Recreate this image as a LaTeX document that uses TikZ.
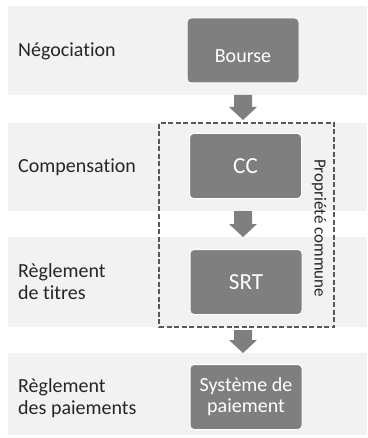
\documentclass[tikz,border=0pt]{standalone}
\usepackage{fontspec}
\setmainfont{Carlito}[Ligatures={NoCommon}]
\usetikzlibrary{calc}
\definecolor{bandc}{HTML}{F2F2F2}
\definecolor{boxg}{HTML}{7F7F7F}
\definecolor{dashc}{HTML}{595959}
\definecolor{txt}{HTML}{262626}
\newcommand\myblockarrow[2]{\fill[boxg] ($(#1)+(-9,0)$) -- ($(#1)+(9,0)$) -- ($(#2)+(9,-13)$) -- ($(#2)+(14,-13)$) -- (#2) -- ($(#2)+(-14,-13)$) -- ($(#2)+(-9,-13)$) -- cycle;}
\begin{document}
\begin{tikzpicture}[x=1pt,y=-1pt,
  bandbox/.style={fill=bandc, draw=none, minimum width=359pt, anchor=north west, inner sep=0pt, outer sep=0pt},
  stepbox/.style={fill=boxg, draw=white, line width=1pt, rounded corners=4pt, minimum width=112pt, minimum height=65pt, text=white, align=center, inner sep=0pt, font=\fontsize{20}{21}\selectfont},
  bigbox/.style={stepbox, font=\fontsize{23}{24}\selectfont},
  lbl/.style={anchor=base west, font=\fontsize{20}{22}\selectfont, text=txt, align=left, inner sep=0pt},
  owner/.style={draw=dashc, line width=1.6pt, dash pattern=on 5pt off 2.5pt, minimum width=175pt, minimum height=204pt, inner sep=0pt}
]
\useasboundingbox (0,0) rectangle (367,438);
\node[bandbox, minimum height=89pt] (b1) at (8,6) {};
\node[bandbox, minimum height=88pt] (b2) at (8,123) {};
\node[bandbox, minimum height=90pt] (b3) at (8,237) {};
\node[bandbox, minimum height=82pt] (b4) at (8,353) {};

\node[owner] (own) at (246.5,225) {};

\node[stepbox, text height=24pt, text depth=0pt] (bourse) at (243,50.5) {Bourse};
\node[bigbox] (cc) at (245.5,166) {CC};
\node[bigbox] (srt) at (246,282) {SRT};
\node[stepbox] (sys) at (246,397) {Système de\\paiement};

\coordinate (a1s) at (b1.south -| bourse.center);
\coordinate (a1e) at ($(b2.north -| bourse.center)+(0,-3)$);
\coordinate (a2s) at (b2.south -| bourse.center);
\coordinate (a2e) at (b3.north -| bourse.center);
\coordinate (a3s) at ($(b3.south -| bourse.center)+(0,3)$);
\coordinate (a3e) at (b4.north -| bourse.center);
\myblockarrow{a1s}{a1e}
\myblockarrow{a2s}{a2e}
\myblockarrow{a3s}{a3e}

\node[rotate=-90, font=\fontsize{17}{17}\selectfont, text=txt] (ownlbl) at (319,228) {Propriété commune};

\node[lbl] (l1) at (18,57) {Négociation};
\node[lbl] (l2) at (18,173) {Compensation};
\node[lbl] (l3) at (18,299) {Règlement\\de titres};
\node[lbl] (l4) at (18,414) {Règlement\\des paiements};
\end{tikzpicture}
\end{document}
